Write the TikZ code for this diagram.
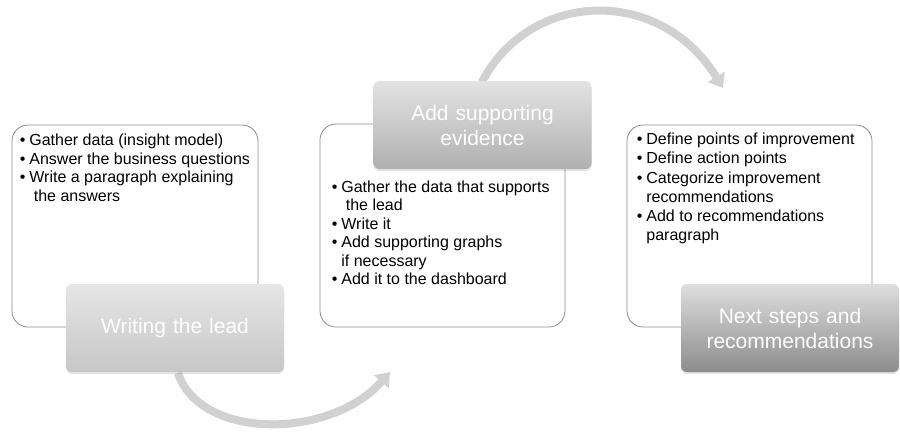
\documentclass[tikz,border=0pt]{standalone}
\usepackage{fontspec}
\setmainfont{Liberation Sans}
\usepackage{tikz}
\usetikzlibrary{arrows.meta, positioning, shadows}

\begin{document}
\begin{tikzpicture}[x=1pt, y=-1pt,
    panel/.style={draw=black!45, line width=0.8pt, rounded corners=16pt, fill=white,
                  inner sep=0pt},
    items/.style={inner sep=0pt, anchor=base west, font=\fontsize{16}{18.5}\selectfont},
    title/.style={rounded corners=6pt, minimum width=218pt, minimum height=88pt,
                  text width=210pt, align=center, text=white, inner sep=0pt,
                  font=\fontsize{21}{25}\selectfont,
                  drop shadow={shadow xshift=0pt, shadow yshift=-2pt, opacity=0.22}},
    flowarrow/.style={-{Triangle[width=19pt, length=13pt]}, line width=8pt, draw=black!18}
]
  \useasboundingbox (0,0) rectangle (900,440);

  % white panels
  \node[panel, minimum width=246pt, minimum height=202pt] (leadbox) at (135,226) {};
  \node[panel, minimum width=245pt, minimum height=203pt] (evbox) at (442.5,225.5) {};
  \node[panel, minimum width=245pt, minimum height=202pt] (nextbox) at (749.5,226) {};

  % bullet lists
  \node[items] (leadlist) at ([xshift=8pt, yshift=-21pt]leadbox.north west) {%
    \begin{tabular}[t]{@{}l@{\hspace{4pt}}l@{}}
      \textbullet & Gather data (insight model)\\
      \textbullet & Answer the business questions\\
      \textbullet & Write a paragraph explaining\\
                  & \ the answers
    \end{tabular}};

  % arrows
  \coordinate (evin) at (390,372);
  \coordinate (nextin) at (723,88);
  \draw[flowarrow] (178,373) .. controls (200,440) and (330,440) .. (evin);
  \draw[flowarrow] (482,82) .. controls (530,-10) and (660,-15) .. (nextin);

  % step titles
  \node[title, top color=black!10, bottom color=black!22] (leadtitle) at (175,328) {Writing the lead};
  \node[title, top color=black!11, bottom color=black!31] (evtitle) at (482.5,125) {Add supporting\\evidence};
  \node[title, top color=black!13, bottom color=black!45] (nexttitle) at (790,328) {Next steps and\\recommendations};

  \node[items] (evlist) at ([xshift=12pt, yshift=-23pt]evbox.west |- evtitle.south) {%
    \begin{tabular}[t]{@{}l@{\hspace{4pt}}l@{}}
      \textbullet & Gather the data that supports\\
                  & \ the lead\\
      \textbullet & Write it\\
      \textbullet & Add supporting graphs\\
                  & if necessary\\
      \textbullet & Add it to the dashboard
    \end{tabular}};
  \node[items, font=\fontsize{16}{19.2}\selectfont] (nextlist) at ([xshift=10pt, yshift=-20pt]nextbox.north west) {%
    \begin{tabular}[t]{@{}l@{\hspace{4pt}}l@{}}
      \textbullet & Define points of improvement\\
      \textbullet & Define action points\\
      \textbullet & Categorize improvement\\
                  & recommendations\\
      \textbullet & Add to recommendations\\
                  & paragraph
    \end{tabular}};
\end{tikzpicture}
\end{document}
